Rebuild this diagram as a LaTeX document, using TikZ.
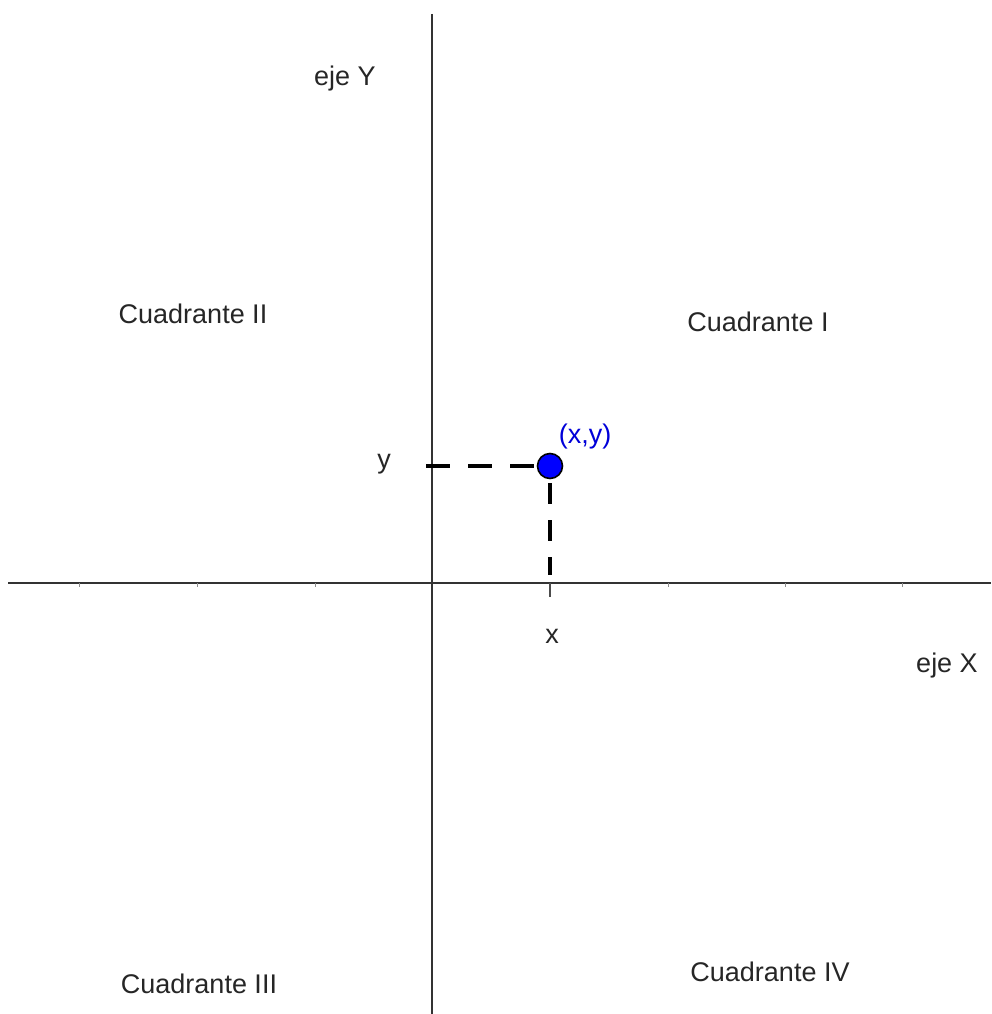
\documentclass[tikz,border=0pt]{standalone}
\usepackage{fontspec}
\setmainfont{Liberation Sans}
\begin{document}
\begin{tikzpicture}[x=1pt,y=-1pt,
  lbl/.style={inner sep=0pt,font=\fontsize{27}{31}\selectfont,text=black!85},
  axis/.style={draw=black!80,line width=1.6pt},
  guide/.style={draw=black,line width=3.4pt,dash pattern=on 24pt off 18pt},
  tickmark/.style={draw=black!45,line width=1pt},
  pointdot/.style={circle,fill=blue,draw=black,line width=1.6pt,minimum size=25pt,inner sep=0pt}]
\useasboundingbox (0,0) rectangle (991,1014);
% axes
\coordinate (xl) at (8,583);
\coordinate (xr) at (991,583);
\coordinate (yt) at (432,14);
\coordinate (yb) at (432,1014);
\draw[axis] (xl) -- (xr);
\draw[axis,line width=1.3pt] (yt) -- (yb);
% faint ticks
\foreach \k in {79,197,315,668,785,902}{
  \draw[tickmark] (\k,583) -- (\k,587);
}
\coordinate (xt1) at (550,583);
\coordinate (xt2) at (550,597);
\draw[draw=black!70,line width=1.4pt] (xt1) -- (xt2);
% point
\node[pointdot] (P) at (550,466) {};
\coordinate (ystart) at (426,466);
\coordinate (xend) at (550,575);
\draw[guide] (ystart) -- (P.west);
\draw[guide,dash pattern=on 21pt off 16pt,dash phase=-4pt] (P.south) -- (xend);
% labels
\node[lbl] (ejeY) at (345,79) {eje Y};
\node[lbl] (c2) at (193,314) {Cuadrante II};
\node[lbl] (c1) at (758,322) {Cuadrante I};
\node[lbl,text=blue!85!black] (pxy) at (585,437) {(x,y)};
\node[lbl] (ly) at (384,464) {y};
\node[lbl] (lx) at (552,636) {x};
\node[lbl] (ejeX) at (947,666) {eje X};
\node[lbl] (c3) at (199,984) {Cuadrante III};
\node[lbl] (c4) at (770,972) {Cuadrante IV};
\end{tikzpicture}
\end{document}
